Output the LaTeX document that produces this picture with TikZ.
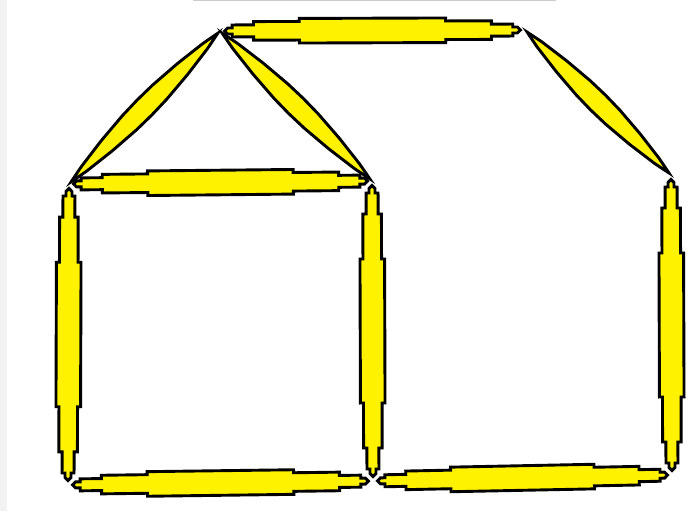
\documentclass[tikz,border=0pt]{standalone}
\usetikzlibrary{calc}
\newcommand{\stepped}{0.025/3,0.04/3,0.04/6,0.11/6,0.11/9.3,0.26/9.3,0.26/12.3,0.74/12.3,0.74/9.3,0.89/9.3,0.89/6,0.96/6,0.96/3,0.975/3}
\newcommand{\tapered}{0.05/1.5,0.1/3.5,0.25/7.5,0.4/10,0.5/10.5,0.6/10,0.75/7.5,0.9/3.5,0.95/1.5}
\newcommand{\spindle}[3][\stepped]{%
  \draw[spindle] ($(#2)!0.015!(#3)$)
    \foreach \f/\w in #1 { -- ($(#2)!\f!(#3)!\w pt!90:(#3)$) }
    -- ($(#3)!0.015!(#2)$)
    \foreach \f/\w in #1 { -- ($(#3)!\f!(#2)!\w pt!90:(#2)$) }
    -- cycle;}
\begin{document}
\begin{tikzpicture}[x=1pt, y=-1pt,
    spindle/.style={draw=black, fill=yellow, line width=2.9pt, line join=miter}]
  \useasboundingbox[fill=white] (0,0) rectangle (698,511);
  \fill[black!5] (0,0) rectangle (7,511);
  \draw[black!20, line width=1.5pt] (193,0.75) -- (556,0.75);
  \coordinate (apex)  at (220,31);
  \coordinate (ridge) at (525,30);
  \coordinate (eaveL) at (69,184);
  \coordinate (eaveM) at (372,181);
  \coordinate (eaveR) at (671,175);
  \coordinate (baseL) at (68,485);
  \coordinate (baseM) at (373,481);
  \coordinate (baseR) at (672,475);
  \spindle{apex}{ridge}
  \spindle[\tapered]{apex}{eaveL}
  \spindle[\tapered]{apex}{eaveM}
  \spindle[\tapered]{ridge}{eaveR}
  \spindle{eaveL}{eaveM}
  \spindle{eaveL}{baseL}
  \spindle{eaveM}{baseM}
  \spindle{eaveR}{baseR}
  \spindle{baseL}{baseM}
  \spindle{baseM}{baseR}
\end{tikzpicture}
\end{document}
